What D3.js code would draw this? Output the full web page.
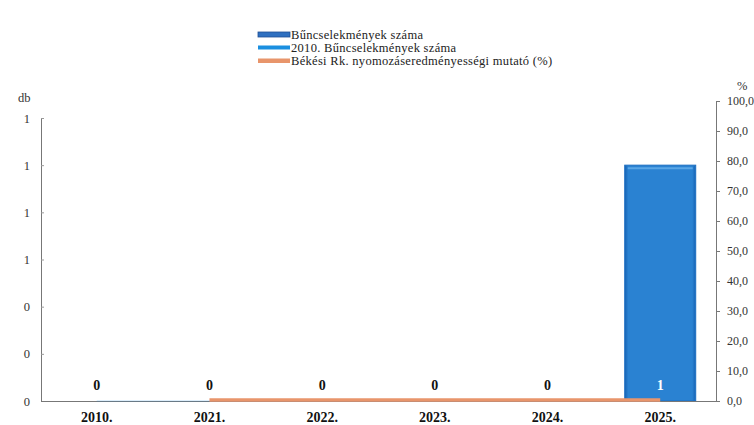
<!DOCTYPE html>
<html><head><meta charset="utf-8">
<script src="https://cdn.jsdelivr.net/npm/d3@7"></script>
<style>body{margin:0;background:#fff}svg{display:block}</style>
</head><body><svg id="c" width="754" height="425" font-family="'Liberation Serif','DejaVu Serif','Times New Roman',serif"></svg>
<script>
const categories = ["2010.","2021.","2022.","2023.","2024.","2025."];
const crimeCounts = [0,0,0,0,0,1];
const crimes2010 = [0,0,0,0,0,0];
const clearanceRate = [null,0,0,0,0,0];
const leftTicks = [0,0.2,0.4,0.6,0.8,1.0,1.2];
const rightTicks = [0,10,20,30,40,50,60,70,80,90,100];
const legendLabels = ["Bűncselekmények száma","2010. Bűncselekmények száma","Békési Rk. nyomozáseredményességi mutató (%)"];

const FF = "'Liberation Serif','DejaVu Serif','Times New Roman',serif";
const svg = d3.select("#c");
const m = {l:41, r:716, t:118, b:401};
const x = d3.scaleBand().domain(categories).range([m.l, m.r]).paddingInner(0.37).paddingOuter(0.18);
const yL = d3.scaleLinear().domain([0,1.2]).range([m.b, m.t]);
const yR = d3.scaleLinear().domain([0,100]).range([m.b, 101]);

const defs = svg.append("defs");
const g = defs.append("linearGradient").attr("id","bg").attr("x1",0).attr("x2",1);
g.append("stop").attr("offset","0%").attr("stop-color","#1662b3");
g.append("stop").attr("offset","5%").attr("stop-color","#2a82d2");
g.append("stop").attr("offset","95%").attr("stop-color","#2a82d2");
g.append("stop").attr("offset","100%").attr("stop-color","#1662b3");

svg.selectAll("rect.bar").data(crimeCounts.map((v,i)=>({c:categories[i],v}))).enter()
  .append("rect").attr("class","bar")
  .attr("x",d=>x(d.c)).attr("width",x.bandwidth())
  .attr("y",d=>yL(d.v)).attr("height",d=>yL(0)-yL(d.v))
  .attr("fill","url(#bg)").attr("stroke","#1d6fc2").attr("stroke-width",1);
svg.selectAll("line.bev").data(crimeCounts.map((v,i)=>({c:categories[i],v})).filter(d=>d.v>0)).enter()
  .append("line").attr("class","bev")
  .attr("x1",d=>x(d.c)+3).attr("x2",d=>x(d.c)+x.bandwidth()-3)
  .attr("y1",d=>yL(d.v)+3).attr("y2",d=>yL(d.v)+3)
  .attr("stroke","#5aa6e6").attr("stroke-width",2);

const axL = svg.append("g").attr("transform",`translate(${m.l},0)`)
  .call(d3.axisRight(yL).tickValues(leftTicks).tickFormat(d3.format(".0f")).tickSize(3));
axL.attr("font-family",FF);
axL.selectAll("text").attr("x",-11).attr("text-anchor","end").attr("font-size",12.5).attr("fill","#333");
axL.select(".domain").attr("stroke","#777");
axL.selectAll(".tick line").attr("stroke","#999");

const axR = svg.append("g").attr("transform",`translate(${m.r},0)`)
  .call(d3.axisRight(yR).tickValues(rightTicks).tickFormat(d=>d3.format(".1f")(d).replace(".",",")).tickSize(4));
axR.attr("font-family",FF);
axR.selectAll("text").attr("x",11).attr("font-size",12).attr("fill","#333");
axR.select(".domain").attr("stroke","#777");
axR.selectAll(".tick line").attr("stroke","#777");

svg.append("line").attr("x1",m.l).attr("x2",m.r).attr("y1",m.b+0.5).attr("y2",m.b+0.5).attr("stroke","#777");

const cx = c => x(c)+x.bandwidth()/2;
svg.append("path").datum(crimes2010.map((v,i)=>({c:categories[i],v})))
  .attr("d",d3.line().x(d=>cx(d.c)).y(d=>yL(d.v)))
  .attr("fill","none").attr("stroke","#1a8fe0").attr("stroke-width",1).attr("stroke-opacity",0.3);

svg.append("path").datum(clearanceRate.map((v,i)=>({c:categories[i],v})))
  .attr("d",d3.line().defined(d=>d.v!==null).x(d=>cx(d.c)).y(d=>yR(d.v)-1))
  .attr("fill","none").attr("stroke","#e8956b").attr("stroke-width",3.5);

svg.selectAll("text.lbl").data(crimeCounts.map((v,i)=>({c:categories[i],v}))).enter()
  .append("text").attr("class","lbl")
  .attr("x",d=>cx(d.c)).attr("y",m.b-11)
  .attr("text-anchor","middle").attr("font-size",14).attr("font-weight","bold")
  .attr("fill",d=>d.v>0?"#fff":"#111").text(d=>d3.format(".0f")(d.v));

svg.selectAll("text.cat").data(categories).enter()
  .append("text").attr("class","cat")
  .attr("x",d=>cx(d)).attr("y",m.b+21).attr("text-anchor","middle")
  .attr("font-size",14).attr("font-weight","bold").attr("fill","#111").text(d=>d);

svg.append("text").attr("x",18).attr("y",102).attr("font-size",12.5).attr("fill","#333").text("db");
svg.append("text").attr("x",737).attr("y",90).attr("font-size",12.5).attr("fill","#333").text("%");

const lg = svg.append("g");
const lx = 258, ly = [35,48,61];
lg.append("rect").attr("x",lx).attr("y",ly[0]-3).attr("width",32).attr("height",5).attr("fill","#2f70c0").attr("stroke","#1f4f95").attr("stroke-width",0.8);
lg.append("rect").attr("x",lx).attr("y",ly[1]-2.5).attr("width",32).attr("height",4).attr("fill","#1a8fe0");
lg.append("rect").attr("x",lx).attr("y",ly[2]-2.5).attr("width",32).attr("height",4.5).attr("fill","#e8956b");
lg.selectAll("text").data(legendLabels).enter().append("text")
  .attr("x",lx+33).attr("y",(d,i)=>ly[i]+4).attr("font-size",12.5).attr("letter-spacing",0.3).attr("fill","#222").text(d=>d);
</script></body></html>
